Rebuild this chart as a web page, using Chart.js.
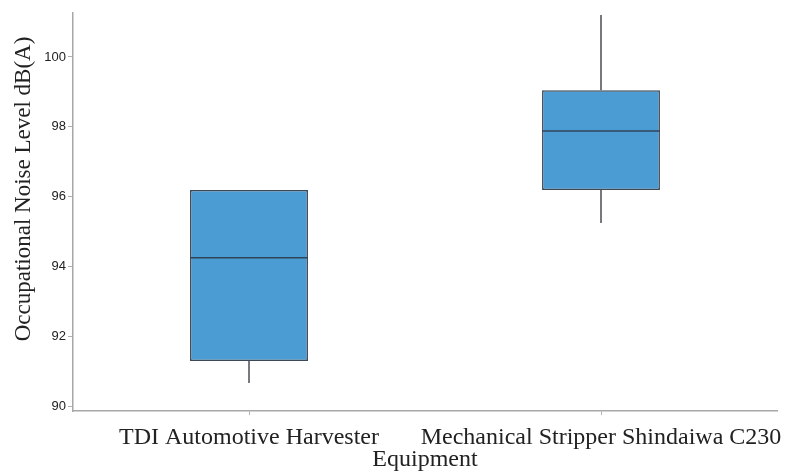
<!DOCTYPE html>
<html>
<head>
<meta charset="utf-8">
<script src="https://cdn.jsdelivr.net/npm/chart.js@4/dist/chart.umd.min.js"></script>
<style>
  html, body { margin: 0; padding: 0; background: #ffffff; }
  #wrap { width: 785px; height: 474px; position: relative; }
</style>
</head>
<body>
<div id="wrap"><canvas id="c" width="785" height="474"></canvas></div>
<script>
// ---- data ----
const categories = ["TDI Automotive Harvester", "Mechanical Stripper Shindaiwa C230"];
const whiskerLow = [90.66, 95.24];
const q1Values   = [91.29, 96.19];
const medians    = [94.25, 97.88];
const q3Values   = [96.19, 99.05];
const whiskerHigh = [96.19, 101.2];
const yTicks = [90, 92, 94, 96, 98, 100];
const yTitle = "Occupational Noise Level dB(A)";
const xTitle = "Equipment";

const boxData = categories.map((c, i) => [q1Values[i], q3Values[i]]);

const boxPlugin = {
  id: 'boxWhiskers',
  afterDatasetsDraw(chart) {
    const ctx = chart.ctx;
    const meta = chart.getDatasetMeta(0);
    const y = chart.scales.y;
    ctx.save();
    meta.data.forEach((bar, i) => {
      const half = bar.width / 2;
      // whiskers
      ctx.strokeStyle = '#4a4f55';
      ctx.lineWidth = 1.5;
      ctx.beginPath();
      if (whiskerHigh[i] > q3Values[i]) {
        ctx.moveTo(bar.x, y.getPixelForValue(q3Values[i]));
        ctx.lineTo(bar.x, y.getPixelForValue(whiskerHigh[i]));
      }
      if (whiskerLow[i] < q1Values[i]) {
        ctx.moveTo(bar.x, y.getPixelForValue(q1Values[i]));
        ctx.lineTo(bar.x, y.getPixelForValue(whiskerLow[i]));
      }
      ctx.stroke();
      // median
      ctx.strokeStyle = '#2f4458';
      ctx.lineWidth = 1.5;
      ctx.beginPath();
      const my = y.getPixelForValue(medians[i]);
      ctx.moveTo(bar.x - half, my);
      ctx.lineTo(bar.x + half, my);
      ctx.stroke();
    });
    // y axis title
    const area = chart.chartArea;
    ctx.fillStyle = '#222222';
    ctx.font = '23px "Liberation Serif", "Times New Roman", serif';
    ctx.textAlign = 'center';
    ctx.textBaseline = 'middle';
    ctx.translate(24, (area.top + area.bottom) / 2 - 23);
    ctx.rotate(-Math.PI / 2);
    ctx.fillText(yTitle, 0, 0);
    ctx.restore();
  }
};

new Chart(document.getElementById('c'), {
  type: 'bar',
  data: {
    labels: categories,
    datasets: [{
      data: boxData,
      backgroundColor: '#4b9cd3',
      borderColor: '#3a4858',
      borderWidth: 1.5,
      borderSkipped: false,
      barPercentage: 0.67,
      categoryPercentage: 0.5
    }]
  },
  options: {
    responsive: false,
    animation: false,
    devicePixelRatio: 1,
    layout: { padding: { top: 13, right: 8, left: 0, bottom: 0 } },
    plugins: { legend: { display: false }, tooltip: { enabled: false } },
    scales: {
      x: {
        type: 'category',
        offset: true,
        grid: { offset: false, drawOnChartArea: false, drawTicks: true, tickLength: 4, color: '#b0b0b0' },
        border: { display: true, color: '#a8a8a8', width: 1.5 },
        ticks: { color: '#222222', font: { family: '"Liberation Serif", "Times New Roman", serif', size: 24 }, padding: 8, maxRotation: 0, autoSkip: false },
        title: { display: true, text: xTitle, color: '#222222', font: { family: '"Liberation Serif", "Times New Roman", serif', size: 24 }, padding: { top: 0, bottom: 0 } },
        afterFit(axis) { axis.height = 63; axis.paddingLeft = 0; axis.paddingRight = 0; }
      },
      y: {
        type: 'linear',
        min: 89.857,
        max: 101.26,
        grid: { drawOnChartArea: false, drawTicks: true, tickLength: 5, color: '#b0b0b0' },
        border: { display: true, color: '#a8a8a8', width: 1.5 },
        ticks: { color: '#222222', font: { family: '"Liberation Sans", Arial, sans-serif', size: 13 }, padding: 2 },
        afterBuildTicks(axis) { axis.ticks = yTicks.map(v => ({ value: v })); },
        afterFit(axis) { axis.width = 73; axis.paddingTop = 0; axis.paddingBottom = 0; }
      }
    }
  },
  plugins: [boxPlugin]
});
</script>
</body>
</html>
